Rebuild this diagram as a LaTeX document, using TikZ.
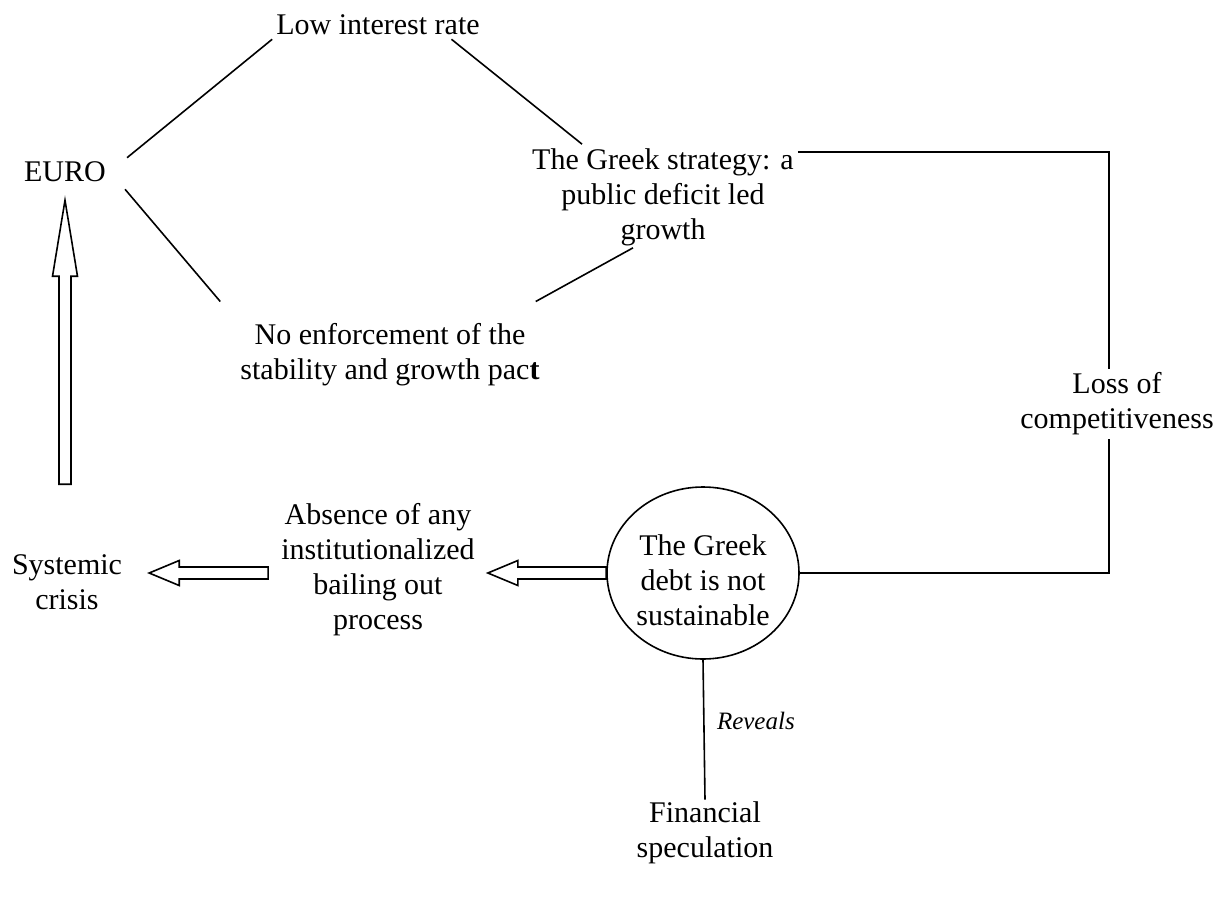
\documentclass[tikz,border=0pt]{standalone}
\usepackage{fontspec}
\setmainfont{Liberation Serif}
\usetikzlibrary{calc,shapes.geometric}

% hollow block arrow from #1 to #2 (tip at #2), head length #3
\newcommand\hollowarrow[3]{%
  \draw[blockarrow] let \p1=#1, \p2=#2,
    \n1={atan2(\y2-\y1,\x2-\x1)}, \n2={veclen(\x2-\x1,\y2-\y1)} in
    [shift={(\p1)}, rotate=\n1]
    (0pt,-6pt) -- ({\n2*1pt-#3},-6pt) -- ({\n2*1pt-#3},-12.5pt)
    -- ({\n2*1pt},0pt) -- ({\n2*1pt-#3},12.5pt) -- ({\n2*1pt-#3},6pt)
    -- (0pt,6pt) -- cycle;}

\tikzset{
  txt/.style={align=center, inner sep=4pt, font=\fontsize{30}{35}\selectfont},
  conn/.style={line width=1.6pt},
  blockarrow/.style={line width=1.6pt, fill=white, line join=miter},
}

\begin{document}
\begin{tikzpicture}[x=1pt, y=-1pt]
\useasboundingbox (0,0) rectangle (1222,907);

% statements
\node[txt] (low)      at (378,25)   {Low interest rate};
\node[txt] (euro)     at (65,172)   {EURO};
\node[txt] (greek)    at (663,197)  {The Greek strategy: a\\public deficit led\\growth};
\node[txt] (noenf)    at (390,355)  {No enforcement of the\\stability and growth pac\textbf{t}};
\node[txt] (loss)     at (1117,404) {Loss of\\competitiveness};
\node[txt, draw, ellipse, line width=1.6pt, minimum width=192pt, minimum height=172pt, inner sep=0pt]
                      (circ)     at (703,573)  {\rule{0pt}{35pt}The Greek\\debt is not\\sustainable};
\node[txt] (absence)  at (378,570)  {Absence of any\\institutionalized\\bailing out\\process};
\node[txt] (systemic) at (67,582)   {Systemic\\crisis};
\node[txt] (fin)      at (705,833)  {Financial\\speculation};

% triangle of causes around the euro
\draw[conn] ($(euro.north east)+(17,0)$) -- (low.south west);
\draw[conn] (low.-11) -- ($(greek.north west)!0.2!(greek.north east)$);
\draw[conn] ($(euro.south east)+(15,3)$) -- ($(noenf.north west)+(-16,-18)$);
\draw[conn] ($(noenf.north east)+(-8,-18)$) -- ($(greek.south)+(-30,-2)$);

% competitiveness loop on the right
\coordinate (tr) at (1109,152);
\coordinate (br) at (1109,573);
\draw[conn] (greek.east |- tr) -- (tr) -- (tr |- loss.north);
\draw[conn] (tr |- loss.south) -- (br) -- (circ.east |- br);

% speculation
\draw[conn] (circ.south) -- node[pos=0.44, anchor=west, xshift=9pt, font=\fontsize{25}{30}\selectfont\itshape] {Reveals} ($(fin.north)+(0,2)$);

% contagion arrows
\coordinate (tipA) at ($(absence.east |- circ.west)+(9,0)$);
\hollowarrow{(circ.west)}{(tipA)}{30pt}
\coordinate (footB) at ($(absence.west |- circ.west)+(-9,0)$);
\coordinate (tipB) at ($(systemic.east |- circ.west)+(23,0)$);
\hollowarrow{(footB)}{(tipB)}{30pt}
\coordinate (footC) at ($(euro.south |- systemic.north)+(0,-66)$);
\coordinate (tipC) at ($(euro.south)+(0,14)$);
\hollowarrow{(footC)}{(tipC)}{76pt}
\end{tikzpicture}
\end{document}
